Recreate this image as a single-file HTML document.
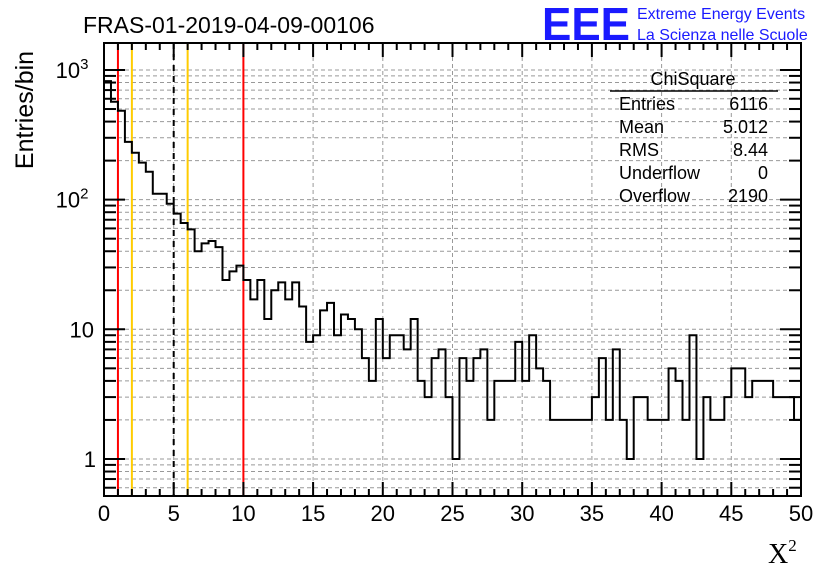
<!DOCTYPE html>
<html><head><meta charset="utf-8"><style>
html,body{margin:0;padding:0;background:#fff;}
svg{display:block;font-family:"Liberation Sans",sans-serif;}
</style></head><body>
<svg id="c" width="836" height="572" viewBox="0 0 836 572" xmlns="http://www.w3.org/2000/svg">
<rect width="836" height="572" fill="#fff"/>
<g id="grid"></g>
<g id="vlines"></g>
<g id="hist"></g>
<g id="axes"></g>
<text x="83" y="33" font-size="23">FRAS-01-2019-04-09-00106</text>
<text x="542" y="40" font-size="46" font-weight="bold" fill="#1a1aff" textLength="88" lengthAdjust="spacingAndGlyphs">EEE</text>
<text x="637" y="19" font-size="16" fill="#1a1aff">Extreme Energy Events</text>
<text x="637" y="40" font-size="16" fill="#1a1aff">La Scienza nelle Scuole</text>
<text transform="translate(33,110) rotate(-90)" text-anchor="middle" font-size="25">Entries/bin</text>
<text x="768" y="563" font-size="28" font-family="Liberation Serif,serif">X<tspan font-size="17" dy="-12">2</tspan></text>
<g font-size="18">
<text x="693" y="85" text-anchor="middle">ChiSquare</text>
<line x1="610" y1="91" x2="778" y2="91" stroke="#000" stroke-width="1.5"/>
<text x="619" y="110">Entries</text><text x="768" y="110" text-anchor="end">6116</text>
<text x="619" y="133">Mean</text><text x="768" y="133" text-anchor="end">5.012</text>
<text x="619" y="156">RMS</text><text x="768" y="156" text-anchor="end">8.44</text>
<text x="619" y="179">Underflow</text><text x="768" y="179" text-anchor="end">0</text>
<text x="619" y="202">Overflow</text><text x="768" y="202" text-anchor="end">2190</text>
</g>
</svg>
<script>
const counts=[820,569,485,279,230,193,164,111,111,93,78,66,59,40,46,48,43,24,28,31,24,17,24,12,20,23,17,23,15,8,9,14,16,9,13,12,10,6,4,12,6,9,9,7,12,4,3,6,7,3,1,6,4,6,7,2,4,4,4,8,4,9,5,4,2,2,2,2,2,2,3,6,2,7,2,1,3,3,2,2,2,5,4,2,9,1,3,2,2,3,5,5,3,4,4,4,3,3,3,2];
const xTicks=[0,5,10,15,20,25,30,35,40,45,50];
const cutRed=[1,10];
const cutYellow=[2,6];
const cutBlack=[5];
const binWidth=0.5;
const L=104,R=801,T=43,B=496,YMIN=0.518,YMAX=1615;
const NS="http://www.w3.org/2000/svg";
function X(v){return L+(v/50)*(R-L);}
function Y(v){return B-(Math.log10(v)-Math.log10(YMIN))/(Math.log10(YMAX)-Math.log10(YMIN))*(B-T);}
function mk(t,a,p){const e=document.createElementNS(NS,t);for(const k in a)e.setAttribute(k,a[k]);p.appendChild(e);return e;}
const grid=document.getElementById('grid'),axes=document.getElementById('axes'),vl=document.getElementById('vlines'),hist=document.getElementById('hist');
// y grid and ticks
for(let d=-1;d<=3;d++){for(let m=1;m<=9;m++){const v=m*Math.pow(10,d);if(v<YMIN||v>YMAX)continue;const y=Y(v);
const g=mk('line',{x1:L,x2:R,y1:y,y2:y,stroke:'#999','stroke-dasharray':'4,3','stroke-width':1},grid);


const len=m===1?21:12;
mk('line',{x1:L,x2:L+len,y1:y,y2:y,stroke:'#000','stroke-width':2},axes);
mk('line',{x1:R-len,x2:R,y1:y,y2:y,stroke:'#000','stroke-width':2},axes);
}}
const yl=[[1,'1'],[10,'10'],[100,'10','2'],[1000,'10','3']];
yl.forEach(a=>{const t=mk('text',{x:a[2]?70:(a[0]===1?96:94),y:Y(a[0])+8,'font-size':22,'text-anchor':a[2]?'middle':'end'},axes);


t.textContent=a[1];if(a[2]){t.setAttribute('x',72);const s=document.createElementNS(NS,'tspan');s.setAttribute('font-size',15);s.setAttribute('dy',-9);s.textContent=a[2];t.appendChild(s);}});
// x grid and ticks
for(let v=0;v<=50;v++){const x=X(v);const maj=v%5===0;
if(maj&&v>0&&v<50){const g=mk('line',{x1:x,x2:x,y1:T,y2:B,stroke:'#999','stroke-dasharray':'4,3','stroke-width':1},grid);

}
const len=maj?14:7;
mk('line',{x1:x,x2:x,y1:B-len,y2:B,stroke:'#000','stroke-width':2},axes);
mk('line',{x1:x,x2:x,y1:T,y2:T+len,stroke:'#000','stroke-width':2},axes);}
xTicks.forEach(v=>{const t=mk('text',{x:X(v),y:521,'font-size':22,'text-anchor':'middle'},axes);


t.textContent=v;});
const fr=mk('rect',{x:L,y:T,width:R-L,height:B-T,fill:'none',stroke:'#000','stroke-width':2},axes);


// cut lines
function cut(v,col,dash){const l=mk('line',{x1:X(v),x2:X(v),y1:T,y2:B,stroke:col,'stroke-width':2},vl);if(dash)l.setAttribute('stroke-dasharray','6,5');

}
cutRed.forEach(v=>cut(v,'#f00'));cutYellow.forEach(v=>cut(v,'#fc0'));cutBlack.forEach(v=>cut(v,'#000',true));
// histogram
let d='';counts.forEach((c,i)=>{const x0=X(i*binWidth),x1=X((i+1)*binWidth),y=Y(Math.max(c,YMIN));d+=(i===0?'M'+x0+','+y:'V'+y)+'H'+x1;});
const p=mk('path',{d:d,fill:'none',stroke:'#000','stroke-width':2},hist);


</script>
</body></html>
